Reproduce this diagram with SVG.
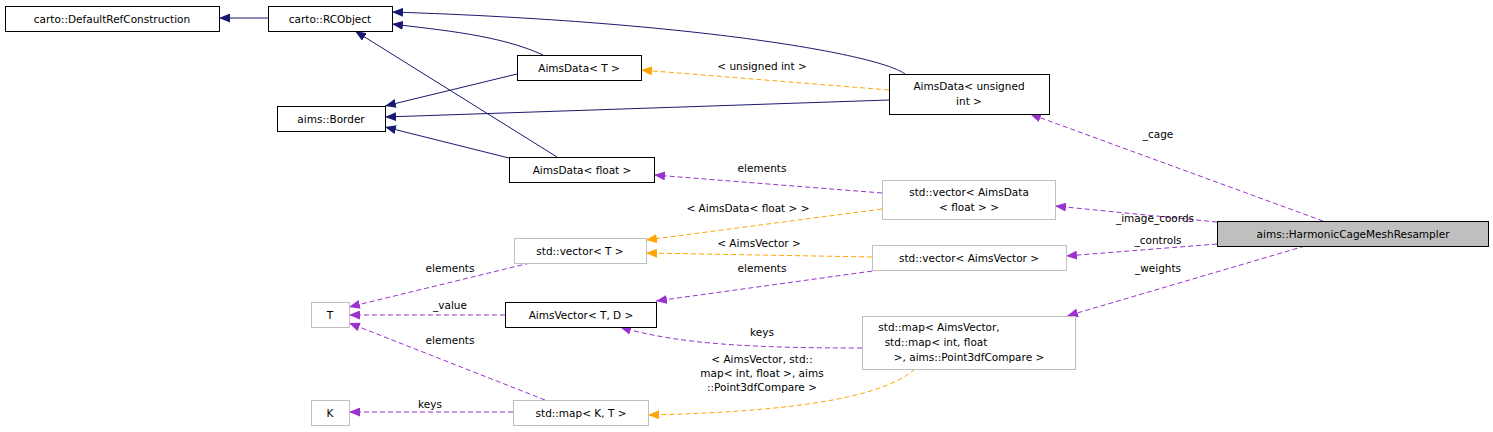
<svg xmlns="http://www.w3.org/2000/svg" width="1493" height="432" viewBox="0 0 1493 432">
<style>
text{font-family:"DejaVu Sans",sans-serif;font-size:10.5px;fill:#000;text-anchor:middle}
.n rect{fill:#fff;stroke:#000;stroke-width:1}
.g rect{fill:#fff;stroke:#bfbfbf;stroke-width:1}
.e path{fill:none;stroke-width:1}
.i{stroke:#191970}
.o{stroke:#ffa500;stroke-dasharray:5,3}
.p{stroke:#9a32cd;stroke-dasharray:5,3}
</style>
<defs>
<marker id="ai" markerWidth="11" markerHeight="9" refX="11" refY="4.5" orient="auto" markerUnits="userSpaceOnUse"><path d="M0,0L11,4.5L0,9z" fill="#191970"/></marker>
<marker id="ao" markerWidth="11" markerHeight="9" refX="11" refY="4.5" orient="auto" markerUnits="userSpaceOnUse"><path d="M0,0L11,4.5L0,9z" fill="#ffa500"/></marker>
<marker id="ap" markerWidth="11" markerHeight="9" refX="11" refY="4.5" orient="auto" markerUnits="userSpaceOnUse"><path d="M0,0L11,4.5L0,9z" fill="#9a32cd"/></marker>
</defs>
<rect width="1493" height="432" fill="#fff"/>
<g id="edges" class="e">
<path class="i" marker-end="url(#ai)" d="M268,18L219,18"/>
<path class="i" marker-end="url(#ai)" d="M905,74C880,55 700,22 392,12"/>
<path class="i" marker-end="url(#ai)" d="M543,55C500,35 440,30 392,24"/>
<path class="i" marker-end="url(#ai)" d="M517,74L385,106"/>
<path class="i" marker-end="url(#ai)" d="M889,100L385,117"/>
<path class="i" marker-end="url(#ai)" d="M509,158L385,127"/>
<path class="i" marker-end="url(#ai)" d="M557,157L355,31"/>
<path class="o" marker-end="url(#ao)" d="M889,90L641,70"/>
<path class="p" marker-end="url(#ap)" d="M882,193L654,175"/>
<path class="o" marker-end="url(#ao)" d="M882,209L646,240"/>
<path class="o" marker-end="url(#ao)" d="M872,257L646,253"/>
<path class="p" marker-end="url(#ap)" d="M880,270L656,301"/>
<path class="p" marker-end="url(#ap)" d="M530,263L349,307"/>
<path class="p" marker-end="url(#ap)" d="M505,315L349,315"/>
<path class="p" marker-end="url(#ap)" d="M545,400L349,323"/>
<path class="p" marker-end="url(#ap)" d="M513,412L349,412"/>
<path class="p" marker-end="url(#ap)" d="M862,348C760,348 680,345 620,327"/>
<path class="o" marker-end="url(#ao)" d="M915,369C880,400 780,412 648,415"/>
<path class="p" marker-end="url(#ap)" d="M1323,221L1030,114"/>
<path class="p" marker-end="url(#ap)" d="M1217,222L1055,206"/>
<path class="p" marker-end="url(#ap)" d="M1217,244L1066,256"/>
<path class="p" marker-end="url(#ap)" d="M1305,246L1067,316"/>
<text x="762" y="70">&lt; unsigned int &gt;</text>
<text x="762" y="172">elements</text>
<text x="748" y="212">&lt; AimsData&lt; float &gt; &gt;</text>
<text x="759" y="247">&lt; AimsVector &gt;</text>
<text x="762" y="272">elements</text>
<text x="450" y="272">elements</text>
<text x="450" y="309">_value</text>
<text x="450" y="344">elements</text>
<text x="430" y="408">keys</text>
<text x="762" y="336">keys</text>
<text x="762" y="363">&lt; AimsVector, std::</text>
<text x="762" y="377">map&lt; int, float &gt;, aims</text>
<text x="762" y="391">::Point3dfCompare &gt;</text>
<text x="1158" y="138">_cage</text>
<text x="1155" y="222">_image_coords</text>
<text x="1158" y="244">_controls</text>
<text x="1158" y="272">_weights</text>
</g>
<g id="n1" class="n"><rect x="5.5" y="6.5" width="214" height="25"/><text x="112" y="23">carto::DefaultRefConstruction</text></g>
<g id="n2" class="n"><rect x="268.5" y="6.5" width="124" height="25"/><text x="330" y="23">carto::RCObject</text></g>
<g id="n3" class="n"><rect x="517.5" y="55.5" width="124" height="25"/><text x="579" y="72">AimsData&lt; T &gt;</text></g>
<g id="n4" class="n"><rect x="277.5" y="106.5" width="108" height="25"/><text x="331" y="123">aims::Border</text></g>
<g id="n5" class="n"><rect x="509.5" y="157.5" width="145" height="25"/><text x="582" y="174">AimsData&lt; float &gt;</text></g>
<g id="n6" class="n"><rect x="889.5" y="74.5" width="160" height="40"/><text x="969" y="90">AimsData&lt; unsigned</text><text x="969" y="105">int &gt;</text></g>
<g id="n7" class="g"><rect x="882.5" y="180.5" width="173" height="39"/><text x="969" y="196">std::vector&lt; AimsData</text><text x="969" y="211">&lt; float &gt; &gt;</text></g>
<g id="n8" class="n"><rect x="1217.5" y="221.5" width="271" height="25" style="fill:#bfbfbf"/><text x="1353" y="238">aims::HarmonicCageMeshResampler</text></g>
<g id="n9" class="g"><rect x="514.5" y="238.5" width="132" height="25"/><text x="580" y="255">std::vector&lt; T &gt;</text></g>
<g id="n10" class="g"><rect x="872.5" y="245.5" width="194" height="25"/><text x="969" y="262">std::vector&lt; AimsVector &gt;</text></g>
<g id="n11" class="g"><rect x="311.5" y="302.5" width="38" height="25"/><text x="330" y="319">T</text></g>
<g id="n12" class="n"><rect x="505.5" y="302.5" width="151" height="25"/><text x="581" y="319">AimsVector&lt; T, D &gt;</text></g>
<g id="n13" class="g"><rect x="862.5" y="316.5" width="213" height="53"/><text x="939" y="331">std::map&lt; AimsVector,</text><text x="936" y="346">std::map&lt; int, float</text><text x="969" y="361">&gt;, aims::Point3dfCompare &gt;</text></g>
<g id="n14" class="g"><rect x="311.5" y="400.5" width="38" height="25"/><text x="330" y="417">K</text></g>
<g id="n15" class="g"><rect x="513.5" y="400.5" width="135" height="25"/><text x="581" y="417">std::map&lt; K, T &gt;</text></g>
</svg>
